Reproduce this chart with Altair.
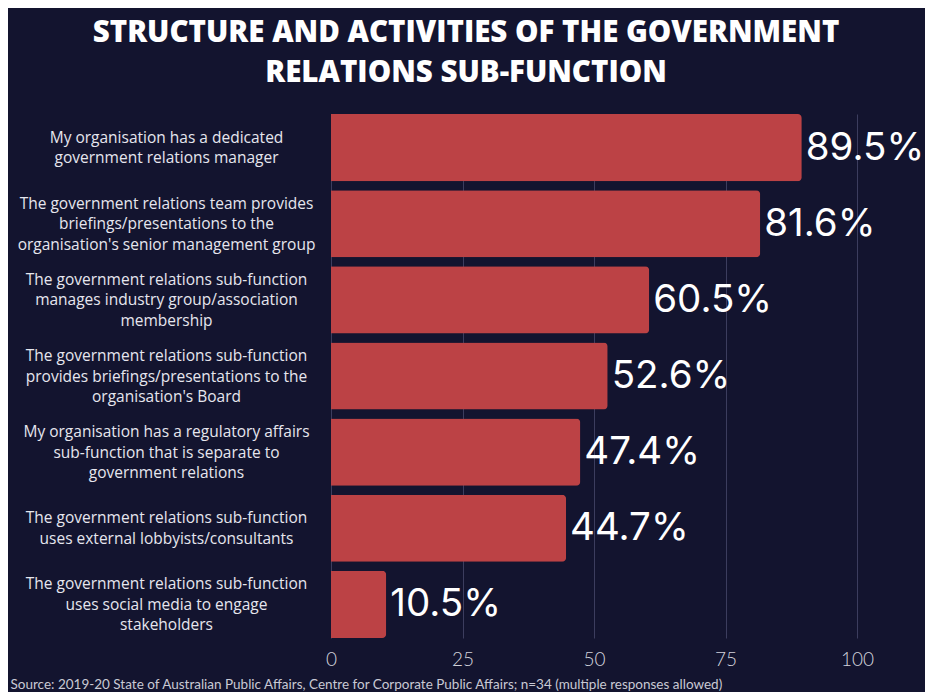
import altair as alt
import pandas as pd

categories = [
    "My organisation has a dedicated|government relations manager",
    "The government relations team provides|briefings/presentations to the|organisation's senior management group",
    "The government relations sub-function|manages industry group/association|membership",
    "The government relations sub-function|provides briefings/presentations to the|organisation's Board",
    "My organisation has a regulatory affairs|sub-function that is separate to|government relations",
    "The government relations sub-function|uses external lobbyists/consultants",
    "The government relations sub-function|uses social media to engage|stakeholders",
]
values = [89.5, 81.6, 60.5, 52.6, 47.4, 44.7, 10.5]
x_ticks = [0, 25, 50, 75, 100]

df = pd.DataFrame({"item": categories, "pct": values})
df["label"] = df["pct"].map(lambda v: f"{v:.1f}%")

BG = "#13142f"
BAR = "#bc4245"

y_enc = alt.Y(
    "item:N",
    sort=categories,
    scale=alt.Scale(paddingInner=0.118, paddingOuter=0),
    axis=alt.Axis(
        title=None,
        labelExpr="split(datum.label, '|')",
        labelAlign="center",
        labelBaseline="middle",
        labelPadding=165,
        labelLimit=0,
        labelOffset={
            "condition": {"test": "length(split(datum.value, '|')) >= 3", "value": -20},
            "value": -10,
        },
        labelFont="Open Sans",
        labelFontSize=15.5,
        labelLineHeight=20.5,
        labelColor="#e6e6ee",
        ticks=False,
        domain=False,
        grid=False,
    ),
)

x_enc = alt.X(
    "pct:Q",
    scale=alt.Scale(domain=[0, 100], nice=False),
    axis=alt.Axis(
        values=x_ticks,
        title="Source: 2019-20 State of Australian Public Affairs, Centre for Corporate Public Affairs; n=34 (multiple responses allowed)",
        titleX=-321,
        titleY=46,
        titleAlign="left",
        titleBaseline="middle",
        titleFont="Lato",
        titleFontSize=13.5,
        titleFontWeight="normal",
        titleColor="#c9c9d4",
        labelFont="Lato",
        labelFontWeight=300,
        labelFontSize=19,
        labelColor="#d2d2dc",
        labelPadding=12,
        labelFlush=False,
        ticks=False,
        domain=False,
        grid=True,
        gridColor="#3c3d5e",
        gridWidth=1,
    ),
)

bars = alt.Chart(df).mark_bar(color=BAR, cornerRadiusEnd=4).encode(y=y_enc, x=x_enc)
texts = alt.Chart(df).mark_text(
    align="left", baseline="middle", dx=4, font="Inter", fontSize=38.5, color="#ffffff"
).encode(y=alt.Y("item:N", sort=categories), x=alt.X("pct:Q"), text="label:N")

chart = (
    alt.layer(bars, texts)
    .properties(
        width=526,
        height=524,
        background=BG,
        padding={"left": 323, "top": 106, "right": 68, "bottom": 54},
        autosize=alt.AutoSizeParams(type="none"),
        title=alt.TitleParams(
            text=["STRUCTURE AND ACTIVITIES OF THE GOVERNMENT", "RELATIONS SUB-FUNCTION"],
            anchor="middle",
            dx=-128,
            font="Open Sans",
            fontWeight=800,
            fontSize=29.5,
            lineHeight=40,
            color="#ffffff",
            offset=26,
        ),
    )
    .configure_view(stroke=None)
)

chart.save("out.html", embed_options={"renderer": "svg", "actions": False})
